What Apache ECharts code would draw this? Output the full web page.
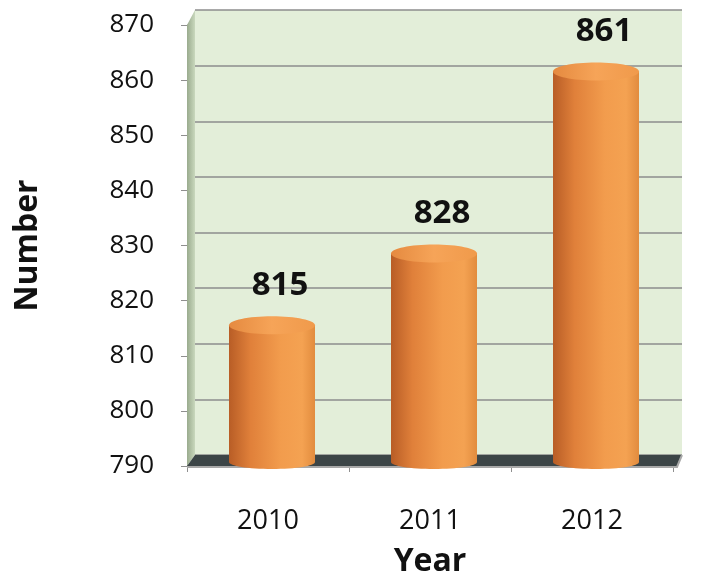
<!DOCTYPE html>
<html><head><meta charset="utf-8">
<script src="https://cdn.jsdelivr.net/npm/echarts@6/dist/echarts.min.js"></script>
<style>html,body{margin:0;padding:0;background:#fff}#c{width:713px;height:588px}</style>
</head><body><div id="c"></div>
<script>
const categories = ['2010', '2011', '2012'];
const values = [815, 828, 861];
const yMin = 790, yMax = 870, yStep = 10;

const FONT = '"Open Sans", "Noto Sans", sans-serif';
const G = {left: 187, right: 40, top: 25, bottom: 122};   // front plane
const B = {left: 195, right: 31, top: 10, bottom: 133};   // back wall

const chart = echarts.init(document.getElementById('c'), null, {renderer: 'canvas'});
const W = 713, H = 588;

const bodyGrad = new echarts.graphic.LinearGradient(0, 0, 1, 0, [
  {offset: 0, color: '#b85d26'},
  {offset: 0.25, color: '#e0803a'},
  {offset: 0.6, color: '#f29c4d'},
  {offset: 0.85, color: '#f4a252'},
  {offset: 1, color: '#e28c3e'}
]);
const topGrad = new echarts.graphic.LinearGradient(0, 0, 1, 0, [
  {offset: 0, color: '#e58a40'},
  {offset: 0.5, color: '#f6a458'},
  {offset: 1, color: '#f09a4b'}
]);

chart.setOption({
  animation: false,
  grid: [
    {left: G.left, right: G.right, top: G.top, bottom: G.bottom},
    {left: B.left, right: B.right, top: B.top, bottom: B.bottom, show: true,
     backgroundColor: '#e3eed9', borderWidth: 0}
  ],
  graphic: [
    // left side wall
    {type: 'polygon', z: 1, silent: true,
     shape: {points: [[G.left, G.top], [B.left, B.top], [B.left, H - B.bottom], [G.left, H - G.bottom]]},
     style: {fill: new echarts.graphic.LinearGradient(0, 0, 1, 0, [
       {offset: 0, color: '#9aab8e'}, {offset: 1, color: '#c9d8bd'}])}},
    // floor
    {type: 'polygon', z: 1, silent: true,
     shape: {points: [[B.left, H - B.bottom], [W - B.right, H - B.bottom], [W - G.right + 4, H - G.bottom], [G.left, H - G.bottom]]},
     style: {fill: '#3c4547'}},
    {type: 'polyline', z: 1, silent: true,
     shape: {points: [[G.left, H - G.bottom + 1], [W - G.right + 4, H - G.bottom + 1], [W - B.right, H - B.bottom]]},
     style: {stroke: '#a8a8a8', lineWidth: 2, fill: null}}
  ],
  xAxis: [
    {type: 'category', gridIndex: 0, data: categories,
     axisLine: {show: true, lineStyle: {color: '#8f8f8f', width: 1}},
     axisTick: {show: true, length: 6, lineStyle: {color: '#8f8f8f'}},
     axisLabel: {fontFamily: FONT, fontSize: 27, color: '#111', margin: 42},
     name: 'Year', nameLocation: 'middle', nameGap: 80,
     nameTextStyle: {fontFamily: FONT, fontSize: 32, fontWeight: 'bold', color: '#111'}},
    {type: 'category', gridIndex: 1, data: categories, show: false}
  ],
  yAxis: [
    {type: 'value', gridIndex: 0, min: yMin, max: yMax, interval: yStep,
     axisLine: {show: true, lineStyle: {color: '#8f8f8f'}},
     axisTick: {show: true, length: 6, lineStyle: {color: '#8f8f8f'}},
     splitLine: {show: false},
     axisLabel: {fontFamily: FONT, fontSize: 26, color: '#111', margin: 33},
     name: 'Number', nameLocation: 'middle', nameGap: 143, nameRotate: 90,
     nameTextStyle: {fontFamily: FONT, fontSize: 32, fontWeight: 'bold', color: '#111'}},
    {type: 'value', gridIndex: 1, min: yMin, max: yMax, interval: yStep,
     axisLine: {show: false}, axisTick: {show: false}, axisLabel: {show: false},
     splitLine: {show: true, lineStyle: {color: '#8c8c8c', width: 1.5}}}
  ],
  series: [{
    type: 'custom', xAxisIndex: 0, yAxisIndex: 0, z: 5,
    data: values.map((v, i) => [i, v]),
    renderItem: function (params, api) {
      const top = api.coord([api.value(0), api.value(1)]);
      const base = api.coord([api.value(0), yMin]);
      const w = 86, rx = w / 2, ry = 9;
      const cx = top[0] + 4;
      const yTop = top[1] - 3;
      const yBot = base[1] - 4;
      return {
        type: 'group',
        children: [
          {type: 'ellipse', shape: {cx: cx, cy: yBot, rx: rx, ry: ry - 2}, style: {fill: bodyGrad}},
          {type: 'rect', shape: {x: cx - rx, y: yTop, width: w, height: yBot - yTop}, style: {fill: bodyGrad}},
          {type: 'ellipse', shape: {cx: cx, cy: yTop, rx: rx, ry: ry}, style: {fill: topGrad}},
          {type: 'text', style: {text: String(api.value(1)), x: cx + 8, y: yTop - 40,
            align: 'center', verticalAlign: 'middle', fontFamily: FONT, fontSize: 33,
            fontWeight: 'bold', fill: '#111'}}
        ]
      };
    }
  }]
});
</script></body></html>
